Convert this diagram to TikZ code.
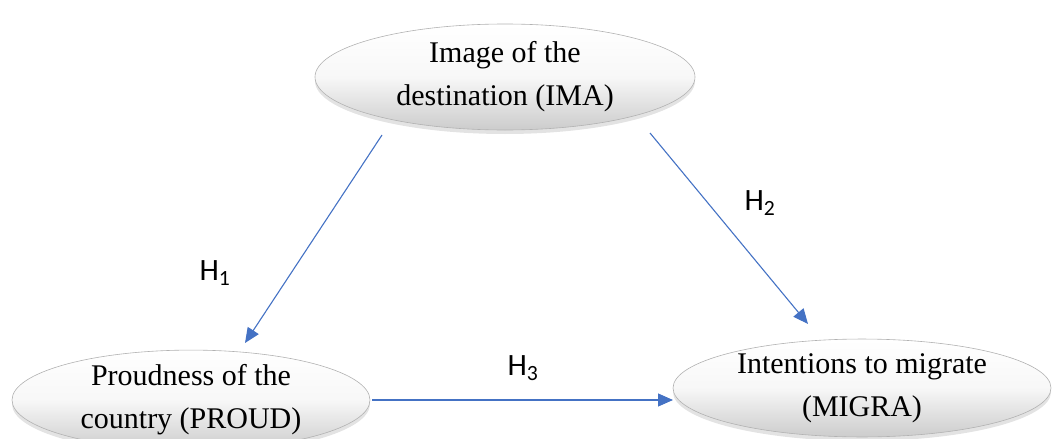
\documentclass[tikz,border=0pt]{standalone}
\usepackage{fontspec}
\setmainfont{Liberation Serif}
\newfontfamily\labelfont{Carlito}
\usetikzlibrary{arrows.meta,shapes.geometric,shadows}
\definecolor{arrowblue}{HTML}{4472C4}
\tikzset{
  construct/.style={ellipse, draw=black!30, line width=0.6pt,
    top color=white, bottom color=black!20, middle color=white!97!black,
    drop shadow={opacity=0.22, shadow xshift=0pt, shadow yshift=-4pt},
    inner sep=0pt, align=center,
    font=\fontsize{30}{43}\selectfont},
  link/.style={draw=arrowblue, line width=1.1pt,
    -{Triangle[length=15pt,width=13pt]}},
  hyp/.style={font=\labelfont\fontsize{31}{33}\selectfont, text=black}
}
\begin{document}
\begin{tikzpicture}[x=1pt,y=-1pt]
\useasboundingbox (0,0) rectangle (1055,439);
\node[construct, minimum width=380pt, minimum height=106pt] (ima) at (505,77)
  {Image of the\\destination (IMA)};
\node[construct, minimum width=358pt, minimum height=96pt] (proud) at (191,400)
  {Proudness of the\\country (PROUD)};
\node[construct, minimum width=378pt, minimum height=96pt] (migra) at (862,388)
  {Intentions to migrate\\(MIGRA)};
\coordinate (h1s) at (382,135);
\coordinate (h1e) at (245,343);
\coordinate (h2s) at (650,133);
\coordinate (h2e) at (808,324);
\coordinate (h3s) at (372,400);
\coordinate (h3e) at (673,400);
\draw[link] (h1s) -- (h1e);
\draw[link] (h2s) -- (h2e);
\draw[link] (h3s) -- (h3e);
\node[hyp] (l1) at (215,273) {H\textsubscript{1}};
\node[hyp] (l2) at (760,203) {H\textsubscript{2}};
\node[hyp] (l3) at (523,368) {H\textsubscript{3}};
\end{tikzpicture}
\end{document}
